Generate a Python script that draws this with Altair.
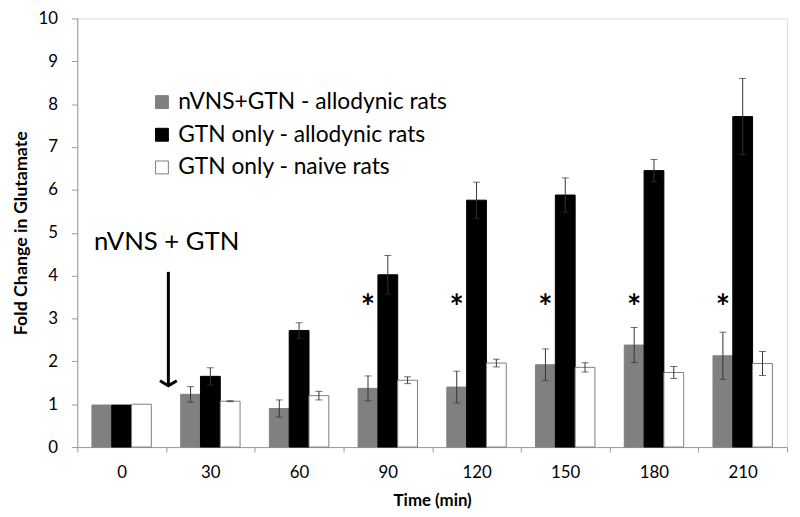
import altair as alt
import pandas as pd

# ---- data ----
times = ["0", "30", "60", "90", "120", "150", "180", "210"]
series = ["nVNS+GTN - allodynic rats", "GTN only - allodynic rats", "GTN only - naive rats"]

grey_vals = [0.98, 1.23, 0.90, 1.37, 1.40, 1.92, 2.38, 2.13]
grey_err = [0.0, 0.18, 0.20, 0.29, 0.37, 0.37, 0.41, 0.55]
black_vals = [0.98, 1.65, 2.72, 4.02, 5.76, 5.88, 6.45, 7.71]
black_err = [0.0, 0.20, 0.18, 0.45, 0.42, 0.40, 0.26, 0.89]
white_vals = [1.00, 1.07, 1.20, 1.56, 1.96, 1.86, 1.74, 1.95]
white_err = [0.0, 0.01, 0.10, 0.08, 0.09, 0.11, 0.14, 0.28]

star_times = ["90", "120", "150", "180", "210"]
star_level = 3.4

fill_colors = ["#808080", "#000000", "#ffffff"]
stroke_colors = ["#808080", "#000000", "#7f7f7f"]

FONT = "Lato"

rows = []
for s, vals, errs in zip(series, [grey_vals, black_vals, white_vals], [grey_err, black_err, white_err]):
    for t, v, e in zip(times, vals, errs):
        rows.append({"time": t, "series": s, "value": v, "err": e, "lo": v - e, "hi": v + e})
df = pd.DataFrame(rows)
err_df = df[df["err"] > 0]

stars = pd.DataFrame({"time": star_times, "series": [series[0]] * len(star_times),
                      "y": [star_level] * len(star_times), "label": ["*"] * len(star_times)})

x_enc = alt.X("time:N", sort=times,
              scale=alt.Scale(paddingInner=0, paddingOuter=0),
              axis=alt.Axis(title="Time (min)", labelAngle=0, tickBand="extent",
                            labelFontSize=17, labelFont=FONT, labelColor="#000",
                            titleFontSize=17, titleFont=FONT, titleFontWeight="bold",
                            titleColor="#000", tickSize=5, labelPadding=13, titlePadding=12,
                            domainColor="#9a9a9a", tickColor="#9a9a9a"))
xo_enc = alt.XOffset("series:N", sort=series,
                     scale=alt.Scale(paddingInner=0, paddingOuter=0.74))
y_enc = alt.Y("value:Q",
              scale=alt.Scale(domain=[0, 10], nice=False),
              axis=alt.Axis(title="Fold Change in Glutamate", values=list(range(0, 11)),
                            grid=False, labelFontSize=17, labelFont=FONT, labelColor="#000",
                            titleFontSize=18, titleFont=FONT, titleFontWeight="bold",
                            titleColor="#000", tickSize=6, labelPadding=14, titlePadding=8,
                            domainColor="#9a9a9a", tickColor="#9a9a9a"))

legend = alt.Legend(title=None, orient="none", legendX=74, legendY=73,
                    symbolType="square", symbolSize=170, labelFontSize=23, labelFont=FONT,
                    labelColor="#000", rowPadding=9, labelOffset=5, padding=0,
                    symbolStrokeWidth=1, labelLimit=0)

bars = alt.Chart(df).mark_bar(strokeWidth=1).encode(
    x=x_enc, xOffset=xo_enc, y=y_enc,
    color=alt.Color("series:N", sort=series,
                    scale=alt.Scale(domain=series, range=fill_colors), legend=legend),
    stroke=alt.Stroke("series:N", sort=series,
                      scale=alt.Scale(domain=series, range=stroke_colors), legend=legend),
)

err_rule = alt.Chart(err_df).mark_rule(color="#333333", strokeWidth=1).encode(
    x=alt.X("time:N", sort=times), xOffset=alt.XOffset("series:N", sort=series),
    y="lo:Q", y2="hi:Q")
cap_hi = alt.Chart(err_df).mark_tick(color="#333333", thickness=1, size=7).encode(
    x=alt.X("time:N", sort=times), xOffset=alt.XOffset("series:N", sort=series),
    y="hi:Q")
cap_lo = alt.Chart(err_df).mark_tick(color="#333333", thickness=1, size=7).encode(
    x=alt.X("time:N", sort=times), xOffset=alt.XOffset("series:N", sort=series),
    y="lo:Q")

star_marks = alt.Chart(stars).mark_text(fontSize=34, fontWeight="bold", font=FONT,
                                        color="#000", baseline="middle", dy=8).encode(
    x=alt.X("time:N", sort=times), xOffset=alt.XOffset("series:N", sort=series),
    y="y:Q", text="label:N")

anno = pd.DataFrame({"label": ["nVNS + GTN"]})
anno_text = alt.Chart(anno).mark_text(fontSize=26, font=FONT, color="#000",
                                      align="left", baseline="middle").encode(
    x=alt.value(17), y=alt.value(226), text="label:N")
arrow_line = alt.Chart(anno).mark_rule(color="#000", strokeWidth=3).encode(
    x=alt.value(92), y=alt.value(256), y2=alt.value(370))
arrow_head = alt.Chart(anno).mark_point(shape="M-1,-0.6L0,0L1,-0.6", size=289,
                                        filled=False, color="#000", strokeWidth=3,
                                        opacity=1).encode(
    x=alt.value(92), y=alt.value(371))

chart = alt.layer(bars, err_rule, cap_hi, cap_lo, star_marks, anno_text, arrow_line, arrow_head).properties(
    width=717, height=433,
    autosize=alt.AutoSizeParams(type="none"),
    padding={"left": 70, "top": 8, "right": 5, "bottom": 60},
).configure_view(stroke=None).configure(background="#ffffff")

chart.save("out.html", embed_options={"renderer": "svg", "actions": False})
